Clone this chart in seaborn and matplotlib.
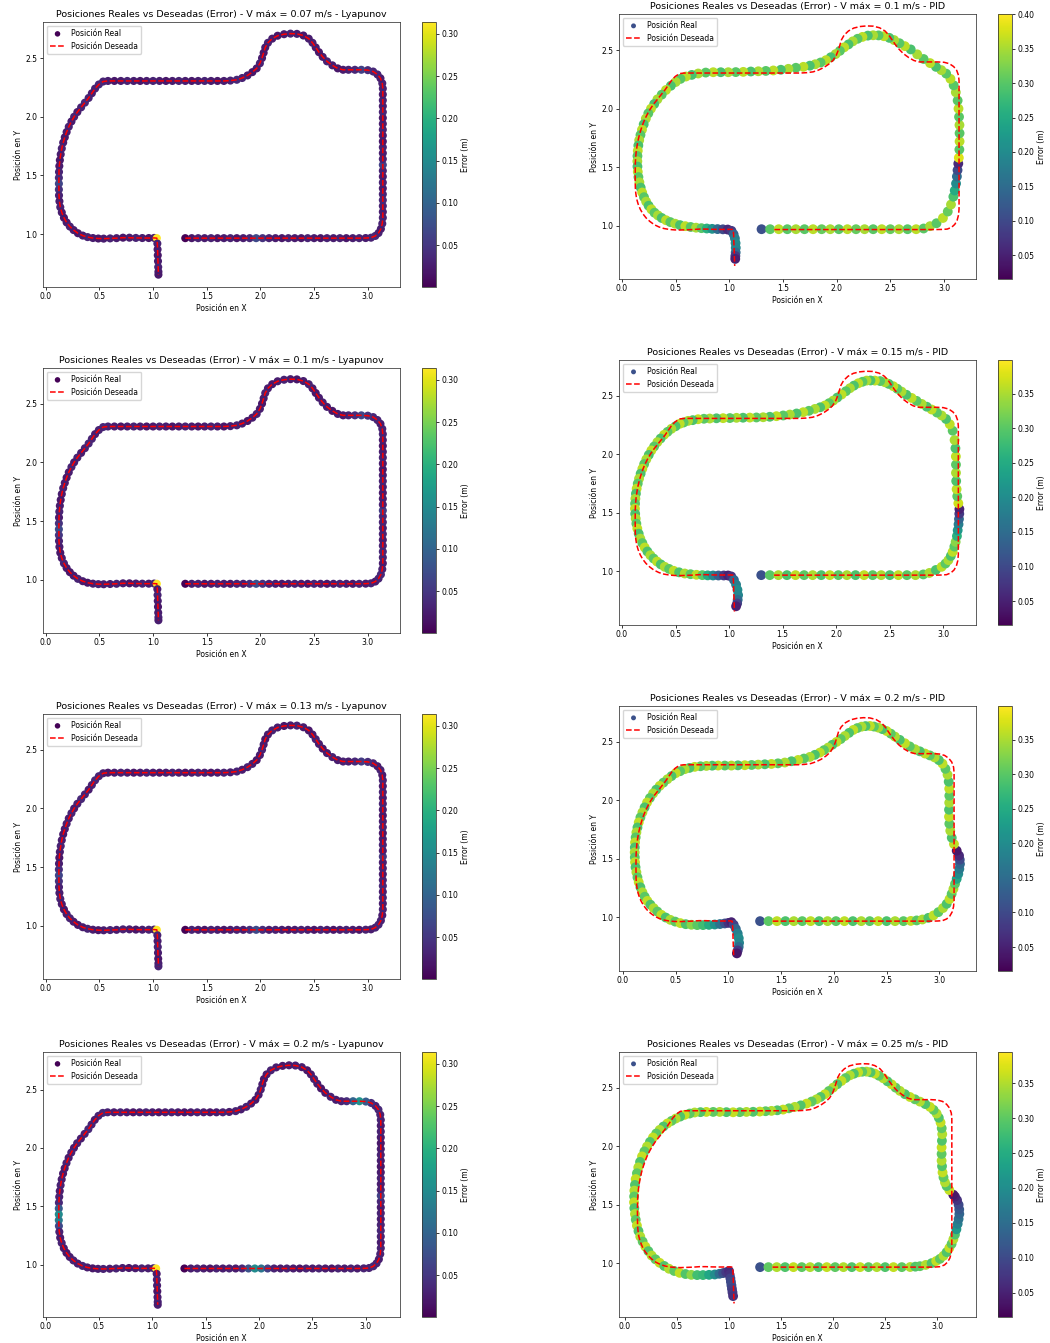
import matplotlib
matplotlib.use("Agg")
import matplotlib.pyplot as plt
import seaborn as sns
from matplotlib.colors import Normalize
from matplotlib.cm import ScalarMappable

# ---------------- data ----------------
# Desired trajectory (shared); Lyapunov real path follows it closely
DESIRED_XY = [
    # bottom right straight
    (1.30, 0.966), (1.36, 0.966), (1.42, 0.966), (1.48, 0.966), (1.54, 0.966), (1.60, 0.966),
    (1.66, 0.966), (1.72, 0.966), (1.78, 0.966), (1.84, 0.966), (1.90, 0.966), (1.96, 0.966),
    (2.02, 0.966), (2.08, 0.966), (2.14, 0.966), (2.20, 0.966), (2.26, 0.966), (2.32, 0.966),
    (2.38, 0.966), (2.44, 0.966), (2.50, 0.966), (2.56, 0.966), (2.62, 0.966), (2.68, 0.966),
    (2.74, 0.966), (2.80, 0.966), (2.86, 0.966), (2.92, 0.966), (2.98, 0.967),
    # bottom right corner
    (3.03, 0.970), (3.07, 0.985), (3.10, 1.010), (3.122, 1.045), (3.135, 1.090),
    # right side
    (3.14, 1.14), (3.14, 1.19), (3.14, 1.24), (3.14, 1.29), (3.14, 1.34), (3.14, 1.39),
    (3.14, 1.44), (3.14, 1.49), (3.14, 1.54), (3.14, 1.59), (3.14, 1.64), (3.14, 1.69),
    (3.14, 1.74), (3.14, 1.79), (3.14, 1.84), (3.14, 1.89), (3.14, 1.94), (3.14, 1.99),
    (3.14, 2.04), (3.14, 2.09), (3.14, 2.14), (3.14, 2.19), (3.14, 2.24),
    # top right corner
    (3.135, 2.285), (3.118, 2.328), (3.09, 2.36), (3.05, 2.385), (3.00, 2.397),
    (2.94, 2.40), (2.88, 2.40), (2.82, 2.40), (2.77, 2.40),
    # bump
    (2.72, 2.412), (2.67, 2.438), (2.62, 2.472), (2.58, 2.51), (2.545, 2.55),
    (2.515, 2.59), (2.485, 2.63), (2.45, 2.665), (2.40, 2.692), (2.34, 2.706),
    (2.28, 2.708), (2.22, 2.703), (2.16, 2.69), (2.11, 2.665), (2.07, 2.63),
    (2.045, 2.59), (2.03, 2.545), (2.015, 2.50), (1.995, 2.455), (1.965, 2.412),
    (1.925, 2.38), (1.88, 2.352), (1.83, 2.33), (1.78, 2.315), (1.72, 2.308),
    # top straight
    (1.66, 2.305), (1.60, 2.305), (1.54, 2.305), (1.48, 2.305), (1.42, 2.305), (1.36, 2.305),
    (1.30, 2.305), (1.24, 2.305), (1.18, 2.305), (1.12, 2.305), (1.06, 2.305), (1.00, 2.305),
    (0.94, 2.305), (0.88, 2.305), (0.82, 2.305), (0.76, 2.305), (0.70, 2.305), (0.64, 2.305),
    (0.58, 2.305),
    # left side
    (0.535, 2.300), (0.495, 2.275), (0.46, 2.24), (0.43, 2.20), (0.40, 2.16), (0.365, 2.12),
    (0.33, 2.08), (0.295, 2.04), (0.265, 2.00), (0.24, 1.96), (0.215, 1.915), (0.195, 1.87),
    (0.178, 1.825), (0.163, 1.78), (0.15, 1.73), (0.14, 1.68), (0.132, 1.63), (0.127, 1.58),
    (0.124, 1.53), (0.123, 1.48), (0.123, 1.43), (0.123, 1.38), (0.124, 1.33), (0.128, 1.28),
    (0.136, 1.23), (0.15, 1.185), (0.17, 1.14), (0.195, 1.10), (0.225, 1.065), (0.26, 1.035),
    (0.30, 1.008), (0.345, 0.988), (0.39, 0.975), (0.44, 0.967), (0.49, 0.963), (0.54, 0.962),
    # bottom left straight
    (0.60, 0.964), (0.66, 0.966), (0.72, 0.970), (0.78, 0.970), (0.84, 0.968), (0.90, 0.967),
    (0.96, 0.967), (1.01, 0.968), (1.035, 0.966),
    # tail
    (1.040, 0.92), (1.042, 0.87), (1.044, 0.82), (1.046, 0.77), (1.048, 0.72), (1.05, 0.68),
    (1.05, 0.655),
]

LYAP07_ERR = [
    0.002, 0.020, 0.030, 0.025, 0.030, 0.020, 0.025, 0.030, 0.020, 0.025,
    0.035, 0.070, 0.045, 0.030, 0.025, 0.020, 0.030, 0.025, 0.020, 0.030,
    0.025, 0.020, 0.030, 0.025, 0.030, 0.020, 0.025, 0.030, 0.025,
    0.030, 0.035, 0.030, 0.025, 0.030,
    0.030, 0.025, 0.030, 0.035, 0.030, 0.025, 0.030, 0.025, 0.030, 0.060,
    0.030, 0.025, 0.030, 0.020, 0.025, 0.030, 0.025, 0.020, 0.030, 0.025,
    0.030, 0.025, 0.030,
    0.030, 0.025, 0.030, 0.035, 0.040, 0.060, 0.035, 0.030, 0.025,
    0.020, 0.025, 0.030, 0.025, 0.020, 0.025, 0.030, 0.025, 0.020, 0.025,
    0.030, 0.025, 0.020, 0.025, 0.030, 0.025, 0.020, 0.025, 0.030, 0.025,
    0.020, 0.025, 0.030, 0.035, 0.030,
    0.025, 0.020, 0.025, 0.030, 0.025, 0.020, 0.025, 0.030, 0.025, 0.020,
    0.025, 0.030, 0.025, 0.020, 0.025, 0.030, 0.025, 0.020, 0.025,
    0.030, 0.035, 0.030, 0.025, 0.030, 0.035, 0.030, 0.025, 0.030, 0.025,
    0.030, 0.025, 0.020, 0.025, 0.030, 0.025, 0.020, 0.025, 0.030, 0.040,
    0.065, 0.045, 0.030, 0.025, 0.030, 0.025, 0.020, 0.025, 0.030, 0.025,
    0.020, 0.025, 0.030, 0.025, 0.020, 0.025,
    0.030, 0.025, 0.020, 0.025, 0.030, 0.025, 0.020, 0.025, 0.314,
    0.030, 0.025, 0.020, 0.025, 0.030, 0.025, 0.020,
]

LYAP10_ERR = [
    0.002, 0.025, 0.030, 0.020, 0.025, 0.030, 0.025, 0.020, 0.030, 0.025,
    0.040, 0.075, 0.045, 0.030, 0.025, 0.020, 0.025, 0.030, 0.025, 0.020,
    0.030, 0.025, 0.020, 0.025, 0.030, 0.025, 0.020, 0.030, 0.025,
    0.030, 0.025, 0.030, 0.035, 0.030,
    0.025, 0.030, 0.035, 0.030, 0.025, 0.030, 0.025, 0.030, 0.035, 0.055,
    0.030, 0.025, 0.020, 0.025, 0.030, 0.025, 0.020, 0.025, 0.030, 0.025,
    0.020, 0.025, 0.030,
    0.030, 0.025, 0.030, 0.035, 0.045, 0.065, 0.040, 0.030, 0.025,
    0.025, 0.020, 0.025, 0.030, 0.025, 0.020, 0.025, 0.030, 0.025, 0.020,
    0.025, 0.030, 0.025, 0.020, 0.025, 0.030, 0.025, 0.020, 0.025, 0.030,
    0.025, 0.020, 0.025, 0.030, 0.025,
    0.020, 0.025, 0.030, 0.025, 0.020, 0.025, 0.030, 0.025, 0.020, 0.025,
    0.030, 0.025, 0.020, 0.025, 0.030, 0.025, 0.020, 0.025, 0.030,
    0.035, 0.030, 0.025, 0.030, 0.035, 0.030, 0.025, 0.030, 0.025, 0.030,
    0.025, 0.020, 0.025, 0.030, 0.025, 0.020, 0.025, 0.030, 0.025, 0.045,
    0.070, 0.050, 0.030, 0.025, 0.020, 0.025, 0.030, 0.025, 0.020, 0.025,
    0.030, 0.025, 0.020, 0.025, 0.030, 0.025,
    0.025, 0.030, 0.025, 0.020, 0.025, 0.030, 0.025, 0.030, 0.314,
    0.025, 0.030, 0.025, 0.020, 0.025, 0.030, 0.025,
]

LYAP13_ERR = [
    0.002, 0.030, 0.025, 0.020, 0.030, 0.025, 0.020, 0.025, 0.030, 0.025,
    0.040, 0.070, 0.040, 0.025, 0.030, 0.025, 0.020, 0.025, 0.030, 0.025,
    0.020, 0.030, 0.025, 0.020, 0.025, 0.030, 0.025, 0.020, 0.030,
    0.025, 0.030, 0.035, 0.030, 0.025,
    0.030, 0.025, 0.030, 0.025, 0.035, 0.030, 0.025, 0.030, 0.025, 0.050,
    0.025, 0.030, 0.025, 0.020, 0.030, 0.025, 0.020, 0.025, 0.030, 0.025,
    0.030, 0.025, 0.030,
    0.025, 0.030, 0.025, 0.030, 0.040, 0.055, 0.035, 0.025, 0.030,
    0.025, 0.030, 0.025, 0.020, 0.025, 0.030, 0.025, 0.020, 0.025, 0.030,
    0.025, 0.020, 0.025, 0.030, 0.025, 0.020, 0.025, 0.030, 0.025, 0.020,
    0.025, 0.030, 0.025, 0.030, 0.025,
    0.030, 0.025, 0.020, 0.025, 0.030, 0.025, 0.020, 0.025, 0.030, 0.025,
    0.020, 0.025, 0.030, 0.025, 0.020, 0.025, 0.030, 0.025, 0.020,
    0.025, 0.030, 0.035, 0.030, 0.025, 0.030, 0.035, 0.030, 0.025, 0.030,
    0.025, 0.030, 0.025, 0.020, 0.025, 0.030, 0.025, 0.020, 0.025, 0.040,
    0.065, 0.045, 0.030, 0.025, 0.030, 0.025, 0.020, 0.025, 0.030, 0.025,
    0.020, 0.025, 0.030, 0.025, 0.020, 0.025,
    0.030, 0.025, 0.030, 0.025, 0.020, 0.025, 0.030, 0.025, 0.314,
    0.030, 0.025, 0.030, 0.025, 0.020, 0.025, 0.030,
]

LYAP20_ERR = [
    0.002, 0.025, 0.030, 0.025, 0.020, 0.030, 0.025, 0.030, 0.025, 0.035,
    0.080, 0.150, 0.120, 0.060, 0.030, 0.025, 0.030, 0.025, 0.020, 0.030,
    0.025, 0.030, 0.025, 0.020, 0.030, 0.025, 0.030, 0.025, 0.030,
    0.030, 0.035, 0.030, 0.025, 0.030,
    0.030, 0.025, 0.030, 0.035, 0.030, 0.025, 0.030, 0.025, 0.035, 0.060,
    0.030, 0.025, 0.030, 0.025, 0.020, 0.025, 0.030, 0.025, 0.020, 0.025,
    0.030, 0.025, 0.030,
    0.030, 0.035, 0.030, 0.040, 0.090, 0.160, 0.100, 0.040, 0.030,
    0.025, 0.030, 0.025, 0.020, 0.025, 0.030, 0.025, 0.020, 0.025, 0.030,
    0.025, 0.020, 0.025, 0.030, 0.025, 0.020, 0.025, 0.030, 0.025, 0.020,
    0.025, 0.030, 0.025, 0.030, 0.025,
    0.030, 0.025, 0.020, 0.025, 0.030, 0.025, 0.020, 0.025, 0.030, 0.025,
    0.020, 0.025, 0.030, 0.025, 0.020, 0.025, 0.030, 0.025, 0.030,
    0.035, 0.030, 0.025, 0.030, 0.035, 0.030, 0.025, 0.030, 0.025, 0.030,
    0.025, 0.030, 0.025, 0.020, 0.025, 0.030, 0.025, 0.030, 0.035, 0.090,
    0.150, 0.130, 0.070, 0.030, 0.025, 0.030, 0.025, 0.020, 0.025, 0.030,
    0.025, 0.030, 0.025, 0.020, 0.025, 0.030,
    0.025, 0.030, 0.025, 0.020, 0.025, 0.030, 0.025, 0.030, 0.314,
    0.025, 0.030, 0.025, 0.020, 0.025, 0.030, 0.025,
]

# PID real paths: (x, y, error)
PID10_PTS = [
    (1.30, 0.969, 0.11), (1.38, 0.969, 0.30), (1.46, 0.969, 0.36), (1.54, 0.969, 0.30),
    (1.62, 0.969, 0.35), (1.70, 0.969, 0.30), (1.78, 0.969, 0.36), (1.86, 0.969, 0.31),
    (1.94, 0.969, 0.35), (2.02, 0.969, 0.30), (2.10, 0.969, 0.36), (2.18, 0.969, 0.31),
    (2.26, 0.969, 0.35), (2.34, 0.969, 0.30), (2.42, 0.969, 0.36), (2.50, 0.969, 0.31),
    (2.58, 0.969, 0.35), (2.66, 0.969, 0.30), (2.74, 0.969, 0.36),
    (2.81, 0.975, 0.30), (2.87, 0.995, 0.35), (2.93, 1.02, 0.30), (2.99, 1.065, 0.36),
    (3.035, 1.12, 0.31), (3.065, 1.18, 0.35), (3.087, 1.247, 0.29), (3.10, 1.30, 0.25),
    (3.112, 1.36, 0.20), (3.12, 1.42, 0.15), (3.126, 1.474, 0.10), (3.133, 1.53, 0.06),
    (3.138, 1.58, 0.38), (3.143, 1.65, 0.30), (3.145, 1.72, 0.36), (3.145, 1.79, 0.30),
    (3.144, 1.86, 0.35), (3.14, 1.93, 0.30), (3.135, 2.00, 0.36), (3.127, 2.07, 0.30),
    (3.11, 2.14, 0.35), (3.09, 2.20, 0.30), (3.06, 2.255, 0.36), (3.02, 2.30, 0.30),
    (2.975, 2.33, 0.35), (2.925, 2.358, 0.29), (2.87, 2.39, 0.36), (2.81, 2.425, 0.30),
    (2.75, 2.465, 0.35), (2.69, 2.507, 0.29), (2.635, 2.535, 0.36),
    (2.585, 2.56, 0.30), (2.535, 2.587, 0.35), (2.49, 2.606, 0.29), (2.44, 2.62, 0.36),
    (2.39, 2.627, 0.30), (2.34, 2.628, 0.35), (2.29, 2.625, 0.29), (2.24, 2.614, 0.36),
    (2.195, 2.598, 0.30), (2.15, 2.576, 0.35), (2.11, 2.55, 0.29), (2.07, 2.525, 0.36),
    (2.03, 2.495, 0.30), (1.99, 2.467, 0.35), (1.945, 2.44, 0.29), (1.90, 2.415, 0.36),
    (1.85, 2.395, 0.30), (1.80, 2.38, 0.35), (1.75, 2.368, 0.29), (1.69, 2.358, 0.36),
    (1.62, 2.35, 0.30), (1.55, 2.341, 0.35), (1.48, 2.333, 0.29), (1.41, 2.327, 0.36),
    (1.34, 2.323, 0.30), (1.27, 2.32, 0.35), (1.20, 2.318, 0.29), (1.13, 2.315, 0.36),
    (1.06, 2.313, 0.30), (0.99, 2.312, 0.35), (0.92, 2.312, 0.29), (0.85, 2.312, 0.36),
    (0.78, 2.309, 0.30), (0.71, 2.301, 0.35), (0.65, 2.289, 0.29), (0.595, 2.275, 0.36),
    (0.545, 2.255, 0.30), (0.50, 2.228, 0.35), (0.455, 2.196, 0.29), (0.41, 2.16, 0.36),
    (0.37, 2.12, 0.30), (0.33, 2.08, 0.35), (0.30, 2.04, 0.29), (0.27, 2.00, 0.36),
    (0.245, 1.96, 0.30), (0.222, 1.915, 0.35), (0.202, 1.866, 0.29), (0.186, 1.82, 0.36),
    (0.172, 1.775, 0.30), (0.16, 1.73, 0.35), (0.152, 1.685, 0.29), (0.147, 1.64, 0.36),
    (0.144, 1.595, 0.30), (0.143, 1.55, 0.35), (0.144, 1.505, 0.29), (0.147, 1.46, 0.36),
    (0.153, 1.415, 0.30), (0.162, 1.37, 0.35), (0.174, 1.325, 0.29), (0.188, 1.283, 0.36),
    (0.205, 1.243, 0.30), (0.225, 1.205, 0.35), (0.248, 1.17, 0.29), (0.274, 1.139, 0.36),
    (0.303, 1.11, 0.30), (0.335, 1.087, 0.35), (0.37, 1.065, 0.29), (0.41, 1.046, 0.36),
    (0.45, 1.03, 0.30), (0.495, 1.016, 0.35), (0.54, 1.004, 0.29), (0.59, 0.995, 0.36),
    (0.64, 0.988, 0.30), (0.69, 0.982, 0.35), (0.74, 0.978, 0.30), (0.79, 0.975, 0.26),
    (0.84, 0.972, 0.21), (0.89, 0.97, 0.15), (0.94, 0.968, 0.10), (0.985, 0.966, 0.06),
    (1.02, 0.955, 0.08), (1.04, 0.925, 0.14), (1.052, 0.89, 0.18), (1.058, 0.85, 0.20),
    (1.06, 0.81, 0.19), (1.059, 0.77, 0.15), (1.056, 0.74, 0.08), (1.055, 0.715, 0.05),
]

PID15_PTS = [
    (1.30, 0.966, 0.11), (1.38, 0.966, 0.30), (1.46, 0.966, 0.35), (1.54, 0.966, 0.29),
    (1.62, 0.966, 0.36), (1.70, 0.966, 0.30), (1.78, 0.966, 0.35), (1.86, 0.966, 0.29),
    (1.94, 0.966, 0.36), (2.02, 0.966, 0.30), (2.10, 0.966, 0.35), (2.18, 0.966, 0.29),
    (2.26, 0.966, 0.36), (2.34, 0.966, 0.30), (2.42, 0.966, 0.35), (2.50, 0.966, 0.29),
    (2.58, 0.966, 0.36), (2.66, 0.966, 0.30), (2.74, 0.966, 0.35),
    (2.813, 0.972, 0.30), (2.87, 0.985, 0.35), (2.93, 1.01, 0.29), (2.984, 1.037, 0.36),
    (3.02, 1.065, 0.30), (3.047, 1.094, 0.35), (3.07, 1.13, 0.29), (3.087, 1.165, 0.36),
    (3.103, 1.21, 0.30), (3.115, 1.25, 0.33), (3.127, 1.30, 0.26), (3.134, 1.349, 0.22),
    (3.142, 1.40, 0.18), (3.146, 1.445, 0.14), (3.149, 1.49, 0.08), (3.15, 1.53, 0.05),
    (3.14, 1.58, 0.37), (3.13, 1.64, 0.30), (3.124, 1.70, 0.36), (3.12, 1.77, 0.29),
    (3.118, 1.84, 0.35), (3.118, 1.91, 0.30), (3.117, 1.98, 0.36), (3.113, 2.05, 0.29),
    (3.105, 2.12, 0.35), (3.087, 2.20, 0.30), (3.06, 2.255, 0.36), (3.025, 2.30, 0.29),
    (2.984, 2.33, 0.35), (2.94, 2.355, 0.30), (2.891, 2.381, 0.36), (2.845, 2.405, 0.29),
    (2.798, 2.429, 0.35), (2.75, 2.455, 0.30), (2.704, 2.48, 0.36), (2.655, 2.507, 0.29),
    (2.61, 2.534, 0.35), (2.57, 2.558, 0.30), (2.533, 2.58, 0.36),
    (2.49, 2.60, 0.29), (2.455, 2.614, 0.35), (2.41, 2.624, 0.30), (2.361, 2.628, 0.36),
    (2.32, 2.629, 0.29), (2.283, 2.628, 0.35), (2.245, 2.618, 0.30), (2.206, 2.605, 0.36),
    (2.165, 2.585, 0.29), (2.128, 2.563, 0.35), (2.09, 2.537, 0.30), (2.05, 2.509, 0.36),
    (2.01, 2.483, 0.29), (1.972, 2.457, 0.35), (1.933, 2.435, 0.30), (1.894, 2.415, 0.36),
    (1.85, 2.40, 0.29), (1.801, 2.386, 0.35), (1.745, 2.37, 0.30), (1.692, 2.358, 0.36),
    (1.63, 2.347, 0.29), (1.567, 2.338, 0.35), (1.505, 2.33, 0.30), (1.442, 2.324, 0.36),
    (1.38, 2.319, 0.29), (1.318, 2.315, 0.35), (1.255, 2.313, 0.30), (1.193, 2.312, 0.36),
    (1.13, 2.311, 0.29), (1.069, 2.31, 0.35), (1.007, 2.308, 0.30), (0.944, 2.307, 0.36),
    (0.882, 2.306, 0.29), (0.819, 2.304, 0.35), (0.765, 2.302, 0.30), (0.71, 2.298, 0.36),
    (0.66, 2.29, 0.29), (0.617, 2.284, 0.35),
    (0.575, 2.27, 0.30), (0.539, 2.259, 0.36), (0.50, 2.238, 0.29), (0.461, 2.216, 0.35),
    (0.425, 2.19, 0.30), (0.393, 2.165, 0.36), (0.36, 2.133, 0.29), (0.33, 2.102, 0.35),
    (0.30, 2.065, 0.30), (0.274, 2.031, 0.36), (0.25, 1.993, 0.29), (0.227, 1.955, 0.35),
    (0.207, 1.915, 0.30), (0.19, 1.875, 0.36), (0.174, 1.833, 0.29), (0.159, 1.79, 0.35),
    (0.147, 1.748, 0.30), (0.137, 1.705, 0.36), (0.13, 1.662, 0.29), (0.125, 1.619, 0.35),
    (0.122, 1.577, 0.30), (0.121, 1.534, 0.36), (0.123, 1.49, 0.29), (0.128, 1.449, 0.35),
    (0.134, 1.406, 0.30), (0.143, 1.364, 0.36), (0.156, 1.32, 0.29), (0.171, 1.278, 0.35),
    (0.19, 1.24, 0.30), (0.212, 1.202, 0.36), (0.237, 1.168, 0.29), (0.265, 1.136, 0.35),
    (0.295, 1.108, 0.30), (0.327, 1.082, 0.36), (0.362, 1.058, 0.29), (0.399, 1.037, 0.35),
    (0.44, 1.019, 0.30), (0.483, 1.003, 0.36), (0.533, 0.99, 0.29), (0.586, 0.98, 0.35),
    (0.64, 0.974, 0.30), (0.695, 0.969, 0.36), (0.75, 0.966, 0.30), (0.80, 0.964, 0.25),
    (0.85, 0.963, 0.19), (0.90, 0.963, 0.13), (0.95, 0.963, 0.08), (0.99, 0.963, 0.05),
    (1.02, 0.955, 0.07), (1.045, 0.925, 0.14), (1.065, 0.885, 0.18), (1.078, 0.84, 0.20),
    (1.084, 0.795, 0.19), (1.08, 0.755, 0.15), (1.075, 0.724, 0.09), (1.065, 0.70, 0.05),
]

PID20_PTS = [
    (1.30, 0.966, 0.11), (1.38, 0.966, 0.30), (1.46, 0.966, 0.36), (1.54, 0.966, 0.29),
    (1.62, 0.966, 0.35), (1.70, 0.966, 0.30), (1.78, 0.966, 0.36), (1.86, 0.966, 0.29),
    (1.94, 0.966, 0.35), (2.02, 0.966, 0.30), (2.10, 0.966, 0.36), (2.18, 0.966, 0.29),
    (2.26, 0.966, 0.35), (2.34, 0.966, 0.30), (2.42, 0.966, 0.36), (2.50, 0.966, 0.29),
    (2.58, 0.966, 0.35), (2.66, 0.966, 0.30), (2.73, 0.968, 0.36),
    (2.785, 0.972, 0.30), (2.84, 0.98, 0.35), (2.896, 0.994, 0.29), (2.945, 1.015, 0.36),
    (2.991, 1.043, 0.30), (3.035, 1.078, 0.35), (3.07, 1.114, 0.29), (3.097, 1.155, 0.36),
    (3.117, 1.199, 0.30), (3.134, 1.242, 0.35), (3.149, 1.285, 0.30), (3.165, 1.328, 0.24),
    (3.18, 1.37, 0.20), (3.19, 1.413, 0.17), (3.196, 1.455, 0.14), (3.194, 1.492, 0.10),
    (3.187, 1.527, 0.06), (3.165, 1.569, 0.04),
    (3.139, 1.626, 0.36), (3.118, 1.68, 0.29), (3.104, 1.74, 0.35), (3.095, 1.80, 0.30),
    (3.092, 1.86, 0.36), (3.092, 1.92, 0.29), (3.094, 1.98, 0.35), (3.095, 2.04, 0.30),
    (3.094, 2.10, 0.36), (3.089, 2.16, 0.29), (3.078, 2.22, 0.35), (3.058, 2.27, 0.30),
    (3.03, 2.315, 0.36), (2.995, 2.345, 0.29), (2.955, 2.368, 0.35), (2.91, 2.385, 0.30),
    (2.864, 2.401, 0.36), (2.815, 2.42, 0.29), (2.769, 2.438, 0.35), (2.72, 2.462, 0.30),
    (2.674, 2.489, 0.36), (2.625, 2.518, 0.29), (2.579, 2.546, 0.35), (2.54, 2.571, 0.30),
    (2.50, 2.594, 0.36), (2.46, 2.61, 0.29), (2.421, 2.623, 0.35), (2.38, 2.632, 0.30),
    (2.342, 2.637, 0.36), (2.30, 2.636, 0.29), (2.263, 2.631, 0.35), (2.222, 2.619, 0.30),
    (2.184, 2.603, 0.36), (2.144, 2.578, 0.29), (2.104, 2.551, 0.35), (2.065, 2.525, 0.30),
    (2.025, 2.50, 0.36), (1.985, 2.476, 0.29), (1.946, 2.452, 0.35), (1.906, 2.43, 0.30),
    (1.867, 2.409, 0.36), (1.82, 2.39, 0.29), (1.772, 2.372, 0.35), (1.716, 2.358, 0.30),
    (1.661, 2.346, 0.36),
    (1.598, 2.335, 0.29), (1.535, 2.324, 0.35), (1.47, 2.317, 0.30), (1.408, 2.312, 0.36),
    (1.345, 2.309, 0.29), (1.282, 2.306, 0.35), (1.22, 2.303, 0.30), (1.155, 2.301, 0.36),
    (1.09, 2.30, 0.29), (1.028, 2.298, 0.35), (0.965, 2.298, 0.30), (0.902, 2.298, 0.36),
    (0.846, 2.297, 0.29), (0.791, 2.295, 0.35), (0.735, 2.292, 0.30), (0.68, 2.287, 0.36),
    (0.63, 2.278, 0.29), (0.585, 2.267, 0.35),
    (0.542, 2.25, 0.30), (0.50, 2.233, 0.36), (0.46, 2.208, 0.29), (0.421, 2.181, 0.35),
    (0.383, 2.152, 0.30), (0.348, 2.124, 0.36), (0.315, 2.092, 0.29), (0.285, 2.059, 0.35),
    (0.255, 2.02, 0.30), (0.228, 1.982, 0.36), (0.205, 1.94, 0.29), (0.184, 1.897, 0.35),
    (0.165, 1.854, 0.30), (0.149, 1.811, 0.36), (0.137, 1.768, 0.29), (0.127, 1.726, 0.35),
    (0.12, 1.683, 0.30), (0.114, 1.64, 0.36), (0.112, 1.597, 0.29), (0.111, 1.555, 0.35),
    (0.112, 1.512, 0.30), (0.114, 1.47, 0.36), (0.119, 1.427, 0.29), (0.127, 1.384, 0.35),
    (0.137, 1.341, 0.30), (0.149, 1.299, 0.36), (0.165, 1.256, 0.29), (0.184, 1.213, 0.35),
    (0.206, 1.175, 0.30), (0.231, 1.139, 0.36), (0.26, 1.107, 0.29), (0.291, 1.077, 0.35),
    (0.326, 1.048, 0.30), (0.364, 1.02, 0.36), (0.405, 0.997, 0.29), (0.449, 0.977, 0.35),
    (0.495, 0.962, 0.30), (0.544, 0.949, 0.36), (0.595, 0.94, 0.29), (0.649, 0.935, 0.33),
    (0.704, 0.932, 0.30), (0.759, 0.932, 0.28), (0.815, 0.934, 0.25), (0.87, 0.937, 0.21),
    (0.92, 0.941, 0.16), (0.965, 0.946, 0.11), (1.00, 0.951, 0.07), (1.028, 0.957, 0.05),
    (1.05, 0.935, 0.09), (1.07, 0.90, 0.14), (1.088, 0.86, 0.18), (1.098, 0.82, 0.20),
    (1.101, 0.78, 0.19), (1.097, 0.745, 0.15), (1.088, 0.715, 0.08), (1.08, 0.69, 0.04),
]

PID25_PTS = [
    (1.30, 0.966, 0.11), (1.38, 0.966, 0.30), (1.46, 0.966, 0.35), (1.54, 0.966, 0.29),
    (1.62, 0.966, 0.36), (1.70, 0.966, 0.30), (1.78, 0.966, 0.35), (1.86, 0.966, 0.29),
    (1.94, 0.966, 0.36), (2.02, 0.966, 0.30), (2.10, 0.966, 0.35), (2.18, 0.966, 0.29),
    (2.26, 0.966, 0.36), (2.34, 0.966, 0.30), (2.42, 0.966, 0.35), (2.50, 0.966, 0.29),
    (2.58, 0.966, 0.36), (2.66, 0.966, 0.30), (2.74, 0.967, 0.35), (2.79, 0.970, 0.29),
    (2.834, 0.974, 0.30), (2.89, 0.985, 0.35), (2.946, 1.0, 0.29), (2.99, 1.018, 0.36),
    (3.026, 1.037, 0.30), (3.06, 1.063, 0.35), (3.09, 1.094, 0.29), (3.116, 1.13, 0.36),
    (3.138, 1.165, 0.30), (3.155, 1.205, 0.35), (3.17, 1.245, 0.29), (3.184, 1.29, 0.22),
    (3.196, 1.336, 0.18), (3.205, 1.378, 0.16), (3.212, 1.421, 0.14), (3.211, 1.46, 0.12),
    (3.205, 1.50, 0.10), (3.19, 1.54, 0.07), (3.17, 1.57, 0.05), (3.154, 1.586, 0.04),
    (3.116, 1.626, 0.36), (3.09, 1.66, 0.29), (3.074, 1.692, 0.35), (3.06, 1.735, 0.30),
    (3.051, 1.777, 0.36), (3.046, 1.83, 0.29), (3.042, 1.877, 0.35), (3.042, 1.935, 0.30),
    (3.042, 1.991, 0.36), (3.045, 2.048, 0.29), (3.048, 2.104, 0.35), (3.043, 2.155, 0.30),
    (3.032, 2.204, 0.36), (3.015, 2.245, 0.29), (2.994, 2.281, 0.35), (2.965, 2.312, 0.30),
    (2.93, 2.338, 0.36), (2.885, 2.362, 0.29), (2.834, 2.383, 0.35), (2.786, 2.403, 0.30),
    (2.738, 2.423, 0.36), (2.69, 2.447, 0.29), (2.642, 2.475, 0.35), (2.60, 2.503, 0.30),
    (2.562, 2.531, 0.36), (2.522, 2.557, 0.29), (2.482, 2.583, 0.35),
    (2.44, 2.605, 0.30), (2.401, 2.623, 0.36), (2.36, 2.634, 0.29), (2.321, 2.64, 0.35),
    (2.28, 2.639, 0.30), (2.241, 2.634, 0.36), (2.20, 2.622, 0.29), (2.161, 2.608, 0.35),
    (2.12, 2.585, 0.30), (2.081, 2.56, 0.36), (2.04, 2.532, 0.29), (2.001, 2.503, 0.35),
    (1.96, 2.474, 0.30), (1.921, 2.446, 0.36), (1.88, 2.423, 0.29), (1.841, 2.403, 0.35),
    (1.795, 2.384, 0.30), (1.745, 2.366, 0.36), (1.69, 2.351, 0.29), (1.633, 2.338, 0.35),
    (1.577, 2.326, 0.30), (1.521, 2.315, 0.36), (1.465, 2.309, 0.29), (1.409, 2.304, 0.35),
    (1.353, 2.301, 0.30), (1.297, 2.298, 0.36), (1.233, 2.296, 0.29), (1.169, 2.295, 0.35),
    (1.105, 2.293, 0.30), (1.041, 2.292, 0.36), (0.977, 2.293, 0.29), (0.913, 2.295, 0.35),
    (0.85, 2.295, 0.30), (0.784, 2.295, 0.36), (0.728, 2.293, 0.29), (0.672, 2.29, 0.35),
    (0.624, 2.281, 0.30), (0.576, 2.27, 0.36),
    (0.533, 2.255, 0.29), (0.49, 2.238, 0.35), (0.45, 2.218, 0.30), (0.41, 2.196, 0.36),
    (0.372, 2.17, 0.29), (0.336, 2.141, 0.35), (0.303, 2.11, 0.30), (0.272, 2.076, 0.36),
    (0.243, 2.038, 0.29), (0.215, 1.999, 0.35), (0.19, 1.957, 0.30), (0.167, 1.914, 0.36),
    (0.148, 1.867, 0.29), (0.131, 1.82, 0.35), (0.118, 1.77, 0.30), (0.106, 1.72, 0.36),
    (0.099, 1.67, 0.29), (0.093, 1.621, 0.35), (0.091, 1.571, 0.30), (0.09, 1.521, 0.36),
    (0.093, 1.471, 0.29), (0.099, 1.421, 0.35), (0.107, 1.372, 0.30), (0.118, 1.322, 0.36),
    (0.133, 1.275, 0.29), (0.15, 1.228, 0.35), (0.173, 1.185, 0.30), (0.199, 1.142, 0.36),
    (0.228, 1.103, 0.29), (0.259, 1.065, 0.35), (0.296, 1.033, 0.30), (0.336, 1.003, 0.36),
    (0.38, 0.976, 0.29), (0.426, 0.952, 0.35), (0.476, 0.933, 0.30), (0.528, 0.917, 0.36),
    (0.584, 0.907, 0.29), (0.64, 0.90, 0.33), (0.696, 0.898, 0.28), (0.752, 0.898, 0.27),
    (0.81, 0.90, 0.24), (0.865, 0.903, 0.20), (0.91, 0.909, 0.15), (0.945, 0.915, 0.11),
    (0.975, 0.922, 0.08), (1.002, 0.932, 0.06),
    (1.008, 0.90, 0.07), (1.015, 0.87, 0.09), (1.02, 0.84, 0.10), (1.025, 0.81, 0.10),
    (1.03, 0.78, 0.09), (1.035, 0.75, 0.08), (1.041, 0.718, 0.07),
]

LYAP_SPEEDS = ["0.07", "0.1", "0.13", "0.2"]
PID_SPEEDS = ["0.1", "0.15", "0.2", "0.25"]
LYAP_ERRS = [LYAP07_ERR, LYAP10_ERR, LYAP13_ERR, LYAP20_ERR]
PID_PATHS = [PID10_PTS, PID15_PTS, PID20_PTS, PID25_PTS]
LYAP_CRANGE = [(0.0004, 0.314)] * 4
PID_CRANGE = [(0.0158, 0.4001), (0.0154, 0.3986), (0.0154, 0.3986), (0.0152, 0.3948)]

# ---------------- style ----------------
plt.rcParams.update({
    "font.family": ["DejaVu Sans"],
    "font.size": 5.5,
    "axes.titlesize": 6.8,
    "axes.labelsize": 5.5,
    "xtick.labelsize": 5.5,
    "ytick.labelsize": 5.5,
    "legend.fontsize": 5.5,
    "axes.linewidth": 0.55,
    "xtick.major.width": 0.55,
    "ytick.major.width": 0.55,
    "xtick.major.size": 2.0,
    "ytick.major.size": 2.0,
    "xtick.major.pad": 1.9,
    "ytick.major.pad": 1.9,
    "axes.titlepad": 3.3,
    "axes.labelpad": 2.2,
    "axes.edgecolor": "#333333",
})

W, H = 1050, 1343
fig = plt.figure(figsize=(W / 100, H / 100), dpi=100)

AX_W = 357 / W
AX_H = 265 / H
CB_W = 14 / W
LEFT = dict(ax_x=43 / W, cb_x=422 / W, bottoms=[287, 633, 979, 1317],
            xlims=[(-0.025, 3.30), (-0.025, 3.30), (-0.025, 3.30), (-0.025, 3.32)],
            ylims=[(0.55, 2.807), (0.547, 2.803), (0.547, 2.805), (0.55, 2.822)])
RIGHT = dict(ax_x=619 / W, cb_x=998 / W, bottoms=[279, 625, 971, 1317],
             xlims=[(-0.028, 3.298), (-0.028, 3.305), (-0.038, 3.348), (-0.054, 3.372)],
             ylims=[(0.543, 2.81), (0.540, 2.804), (0.539, 2.808), (0.539, 2.808)])


def panel(ax, cax, rx, ry, err, dx, dy, crange, title, size, mscale, xlim, ylim):
    vmin, vmax = crange
    sns.scatterplot(x=list(rx), y=list(ry), hue=list(err), palette="viridis",
                    hue_norm=(vmin, vmax), s=size, linewidth=0, edgecolor="none",
                    legend=False, label="Posición Real", ax=ax)
    sns.lineplot(x=list(dx), y=list(dy), sort=False, estimator=None, color="red",
                 linestyle="--", linewidth=1.1, label="Posición Deseada", ax=ax)
    ax.set_xlim(*xlim)
    ax.set_ylim(*ylim)
    ax.set_title(title)
    ax.set_xlabel("Posición en X")
    ax.set_ylabel("Posición en Y")
    handles = [ax.collections[0], ax.lines[0]]
    ax.legend(handles, ["Posición Real", "Posición Deseada"], loc="upper left",
              markerscale=mscale, framealpha=0.8, borderpad=0.4, handlelength=2.0)
    sm = ScalarMappable(norm=Normalize(vmin=vmin, vmax=vmax), cmap="viridis")
    cb = fig.colorbar(sm, cax=cax)
    cb.set_label("Error (m)")
    cb.outline.set_linewidth(0.55)
    cb.ax.tick_params(width=0.55, length=2.0)


des_x = [p[0] for p in DESIRED_XY]
des_y = [p[1] for p in DESIRED_XY]

for i in range(4):
    b = (H - LEFT["bottoms"][i]) / H
    ax = fig.add_axes([LEFT["ax_x"], b, AX_W, AX_H])
    cax = fig.add_axes([LEFT["cb_x"], b, CB_W, AX_H])
    title = f"Posiciones Reales vs Deseadas (Error) - V máx = {LYAP_SPEEDS[i]} m/s - Lyapunov"
    panel(ax, cax, des_x, des_y, LYAP_ERRS[i], des_x, des_y, LYAP_CRANGE[i], title,
          34, 0.68, LEFT["xlims"][i], LEFT["ylims"][i])

for i in range(4):
    b = (H - RIGHT["bottoms"][i]) / H
    ax = fig.add_axes([RIGHT["ax_x"], b, AX_W, AX_H])
    cax = fig.add_axes([RIGHT["cb_x"], b, CB_W, AX_H])
    pts = PID_PATHS[i]
    rx = [p[0] for p in pts]
    ry = [p[1] for p in pts]
    er = [p[2] for p in pts]
    title = f"Posiciones Reales vs Deseadas (Error) - V máx = {PID_SPEEDS[i]} m/s - PID"
    panel(ax, cax, rx, ry, er, des_x[2:], des_y[2:], PID_CRANGE[i], title,
          50, 0.5, RIGHT["xlims"][i], RIGHT["ylims"][i])

fig.savefig("out.png", dpi=100)
